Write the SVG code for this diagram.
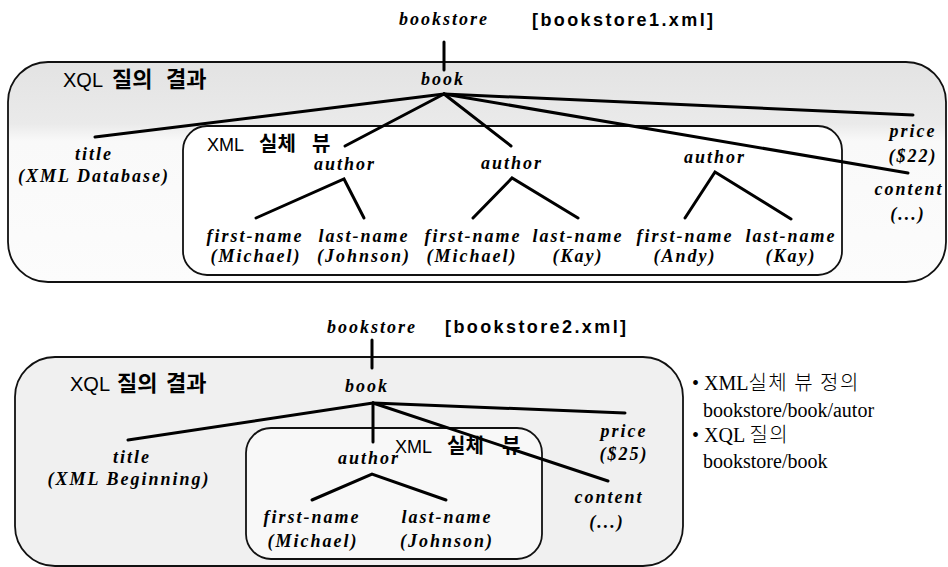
<svg xmlns="http://www.w3.org/2000/svg" width="948" height="567" viewBox="0 0 948 567">
<style>
.box{stroke:#111;stroke-width:1.8}
.conn line,.conn polyline{stroke:#000;stroke-width:3;fill:none;stroke-linecap:round;stroke-linejoin:miter}
.el{font-family:"Liberation Serif","Times New Roman",serif;font-weight:bold;font-style:italic;font-size:18px;letter-spacing:2px;text-anchor:middle;fill:#000}
.hd{font-family:"Liberation Sans",Arial,"Noto Sans CJK KR",sans-serif;fill:#000}
.hd tspan.k{font-family:"Noto Sans CJK KR",sans-serif;font-weight:bold}
.q{font-size:20px}
.q tspan.k{font-size:22px}
.v{font-size:18px}
.v tspan.k{font-size:20px}
.file{font-family:"Liberation Sans",Arial,sans-serif;font-weight:bold;font-size:18px;letter-spacing:2.4px;fill:#000}
.note{font-family:"Liberation Serif","Times New Roman","Noto Sans CJK KR",serif;font-size:20px;fill:#000}
.note tspan.k{font-family:"Noto Sans CJK KR",sans-serif;font-weight:300;letter-spacing:1.5px}
</style>
<defs>
<linearGradient id="topShade" x1="0" y1="62" x2="0" y2="282" gradientUnits="userSpaceOnUse">
<stop offset="0" stop-color="#e3e3e3"/>
<stop offset="0.28" stop-color="#eaeaea"/>
<stop offset="0.36" stop-color="#f9f9f9"/>
<stop offset="1" stop-color="#fcfcfc"/>
</linearGradient>
</defs>
<rect width="948" height="567" fill="#fff"/>

<!-- ===== Diagram 1: bookstore1.xml ===== -->
<g id="box1-query">
<rect class="box" x="8" y="62" width="938" height="220" rx="40" ry="40" fill="url(#topShade)"/>
<text class="hd q" x="63" y="87">XQL <tspan class="k" x="112">질의 </tspan><tspan class="k" x="166">결과</tspan></text>
</g>
<g id="box1-view">
<rect class="box" x="183" y="126" width="659" height="149" rx="24" ry="24" fill="#fff"/>
<text class="hd v" x="207" y="151">XML <tspan class="k" x="259">실체 </tspan><tspan class="k" x="312">뷰</tspan></text>
</g>
<g id="file1"><text class="file" x="532" y="26">[bookstore1.xml]</text></g>

<g class="conn" id="connectors1">
<line x1="444" y1="42" x2="444" y2="70"/>
<line x1="444" y1="94" x2="95" y2="137"/>
<line x1="444" y1="94" x2="345" y2="146"/>
<line x1="444" y1="94" x2="511" y2="146"/>
<line x1="444" y1="94" x2="913" y2="115"/>
<line x1="444" y1="94" x2="908" y2="173"/>
<polyline points="256,218 344,179 364,218"/>
<polyline points="473,218 512,178 578,218"/>
<polyline points="685,218 715,172 791,219"/>
</g>

<g id="n1-bookstore"><text class="el" x="444" y="25">bookstore</text></g>
<g id="n1-book"><text class="el" x="443" y="85">book</text></g>
<g id="n1-title"><text class="el" x="94" y="160">title</text><text class="el" x="94" y="182">(XML Database)</text></g>
<g id="n1-author1"><text class="el" x="345" y="170">author</text></g>
<g id="n1-author2"><text class="el" x="512" y="169">author</text></g>
<g id="n1-author3"><text class="el" x="715" y="163">author</text></g>
<g id="n1-first1"><text class="el" x="255" y="242">first-name</text><text class="el" x="256" y="262">(Michael)</text></g>
<g id="n1-last1"><text class="el" x="364" y="242">last-name</text><text class="el" x="364" y="262">(Johnson)</text></g>
<g id="n1-first2"><text class="el" x="473" y="242">first-name</text><text class="el" x="472" y="262">(Michael)</text></g>
<g id="n1-last2"><text class="el" x="578" y="242">last-name</text><text class="el" x="578" y="262">(Kay)</text></g>
<g id="n1-first3"><text class="el" x="685" y="242">first-name</text><text class="el" x="685" y="262">(Andy)</text></g>
<g id="n1-last3"><text class="el" x="791" y="242">last-name</text><text class="el" x="791" y="262">(Kay)</text></g>
<g id="n1-price"><text class="el" x="913" y="137">price</text><text class="el" x="913" y="162">($22)</text></g>
<g id="n1-content"><text class="el" x="909" y="195">content</text><text class="el" x="908" y="220">(...)</text></g>

<!-- ===== Diagram 2: bookstore2.xml ===== -->
<g id="box2-query">
<rect class="box" x="15" y="357" width="668" height="209" rx="40" ry="40" fill="#f0f0f0"/>
<text class="hd q" x="70" y="391">XQL <tspan class="k" x="117">질의 </tspan><tspan class="k" x="166">결과</tspan></text>
</g>
<g id="box2-view">
<rect class="box" x="246" y="428" width="296" height="131" rx="25" ry="25" fill="#f8f8f8"/>
<text class="hd v" x="395" y="453" font-size="19">XML <tspan class="k" x="447">실체 </tspan><tspan class="k" x="502">뷰</tspan></text>
</g>
<g id="file2"><text class="file" x="445" y="333">[bookstore2.xml]</text></g>

<g class="conn" id="connectors2">
<line x1="372" y1="340" x2="372" y2="368"/>
<line x1="373" y1="403" x2="128" y2="440"/>
<line x1="373" y1="403" x2="373" y2="442"/>
<line x1="373" y1="403" x2="625" y2="413"/>
<line x1="373" y1="403" x2="608" y2="481"/>
<polyline points="312,500 372,474 446,500"/>
</g>

<g id="n2-bookstore"><text class="el" x="372" y="333">bookstore</text></g>
<g id="n2-book"><text class="el" x="367" y="392">book</text></g>
<g id="n2-title"><text class="el" x="132" y="463">title</text><text class="el" x="129" y="485">(XML Beginning)</text></g>
<g id="n2-author"><text class="el" x="369" y="464">author</text></g>
<g id="n2-first"><text class="el" x="312" y="523">first-name</text><text class="el" x="313" y="547">(Michael)</text></g>
<g id="n2-last"><text class="el" x="447" y="523">last-name</text><text class="el" x="447" y="547">(Johnson)</text></g>
<g id="n2-price"><text class="el" x="624" y="437">price</text><text class="el" x="624" y="460">($25)</text></g>
<g id="n2-content"><text class="el" x="609" y="503">content</text><text class="el" x="607" y="528">(...)</text></g>

<g id="notes">
<text class="note" x="692" y="390">• XML<tspan class="k">실체 뷰 정의</tspan></text>
<text class="note" x="703" y="417">bookstore/book/autor</text>
<text class="note" x="692" y="442">• XQL <tspan class="k">질의</tspan></text>
<text class="note" x="703" y="468">bookstore/book</text>
</g>
</svg>
